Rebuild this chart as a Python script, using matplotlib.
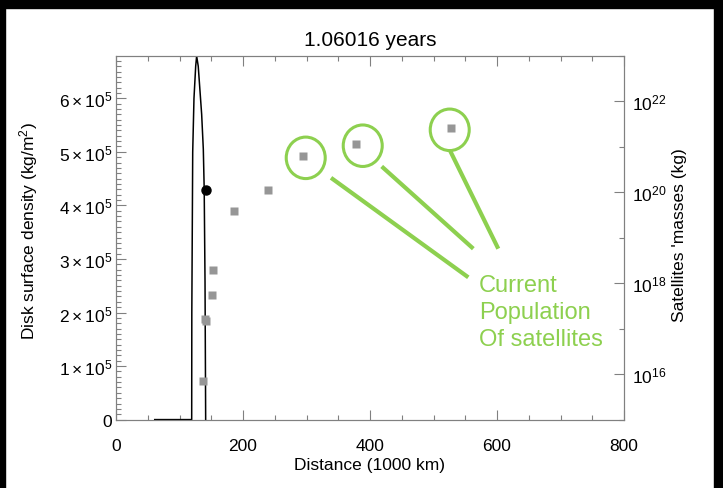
import matplotlib
matplotlib.use('Agg')
import matplotlib.pyplot as plt
import numpy as np
from matplotlib.ticker import FixedLocator, MultipleLocator, FuncFormatter, NullFormatter
from matplotlib.patches import Ellipse, Rectangle
from matplotlib.transforms import ScaledTranslation

plt.rcParams['font.family'] = ['Liberation Sans', 'DejaVu Sans']
plt.rcParams['mathtext.fontset'] = 'custom'
plt.rcParams['mathtext.rm'] = 'Liberation Sans'
plt.rcParams['mathtext.it'] = 'Liberation Sans:italic'
plt.rcParams['mathtext.bf'] = 'Liberation Sans:bold'

# disk surface density profile: distance (1000 km), sigma (kg/m^2)
disk_r = [61, 119.2, 119.4, 120.8, 122.8, 125.5, 127.0, 129.5, 134.9, 137.5, 138.9, 140.2, 141.2]
disk_sigma = [0, 0, 2.0e5, 5.0e5, 6.0e5, 6.6e5, 6.79e5, 6.6e5, 5.7e5, 5.05e5, 4.3e5, 2.57e5, 0]

# outer edge of the disk
edge_r = 141.7
edge_sigma = 4.28e5

# satellites: distance (1000 km) and log10(mass / kg)
sat_r = [137, 139.7, 142.2, 151.7, 152.3, 185.8, 239.4, 295, 378, 527.6]
sat_logm = [15.84, 17.22, 17.16, 17.74, 18.30, 19.60, 20.06, 20.81, 21.07, 21.42]

# the three outermost satellites get highlighted
highlight = [7, 8, 9]

title = '1.06016 years'
green = '#8dd04f'
grey = '#808080'

fig = plt.figure(figsize=(7.23, 4.89), dpi=100)
ax = fig.add_axes([116 / 723, 1 - 420.6 / 489, 508 / 723, 363.6 / 489])
ax2 = ax.twinx()

# density profile and disk edge
ax.plot(disk_r, disk_sigma, color='black', lw=1.1, zorder=3)
ax.plot([edge_r], [edge_sigma], 'o', color='black', ms=6.5, zorder=4)

# satellites on the log mass axis
sat_m = 10 ** np.array(sat_logm)
ax2.plot(sat_r, sat_m, 's', color='#969696', ms=5.3, mec='none')

ax.set_xlim(0, 800)
ax.set_ylim(0, max(disk_sigma))
ax2.set_yscale('log')
ax2.set_ylim(1e15, 1e23)

# left axis
ax.xaxis.set_major_locator(MultipleLocator(200))
ax.xaxis.set_minor_locator(MultipleLocator(50))
ax.yaxis.set_major_locator(MultipleLocator(1e5))
ax.yaxis.set_minor_locator(MultipleLocator(1e4))


def dens_fmt(v, pos):
    if v == 0:
        return '0'
    return r'$%d\times10^{5}$' % round(v / 1e5)


ax.yaxis.set_major_formatter(FuncFormatter(dens_fmt))
ax.tick_params(axis='both', which='both', direction='in', color=grey, labelsize=12.5)
ax.tick_params(axis='x', which='both', top=True)
ax.tick_params(axis='both', which='major', length=7.2, width=0.8)
ax.tick_params(axis='both', which='minor', length=3.6, width=0.8)
ax.tick_params(axis='x', pad=13)
ax.tick_params(axis='y', pad=3)

# right axis: decades, labels on even powers only
ax2.yaxis.set_major_locator(FixedLocator(10.0 ** np.arange(16, 23, 2)))
ax2.yaxis.set_minor_locator(FixedLocator(10.0 ** np.arange(15, 24, 2)))
ax2.yaxis.set_major_formatter(FuncFormatter(lambda v, p: r'$10^{%d}$' % round(np.log10(v))))
ax2.yaxis.set_minor_formatter(NullFormatter())
ax2.tick_params(axis='y', which='both', direction='in', color=grey, labelsize=12.5, pad=6)
ax2.tick_params(axis='y', which='major', length=7.2, width=0.8)
ax2.tick_params(axis='y', which='minor', length=3.6, width=0.8)

for a in (ax, ax2):
    for s in a.spines.values():
        s.set_color(grey)
        s.set_linewidth(0.8)

ax.set_title(title, fontsize=15, pad=8)
ax.set_xlabel('Distance (1000 km)', fontsize=12.5)
ax.xaxis.set_label_coords(0.5, -0.104)
ax.set_ylabel('Disk surface density (kg/m$^2$)', fontsize=12.5)
ax.yaxis.set_label_coords(-0.173, 0.52)
ax.yaxis.label.set_va('center')
ax2.set_ylabel("Satellites 'masses (kg)", fontsize=12.5)
ax2.yaxis.set_label_coords(1.11, 0.51)
ax2.yaxis.label.set_va('center')

# green callouts around the outer satellites
circle_offsets = [(2.4, -2.3), (6.7, -2.0), (-1.3, -2.0)]
line_starts = [(338.6, 20.32), (418.4, 20.57), (526.0, 20.92)]
line_ends = [(554.8, 18.13), (562.7, 18.76), (602.0, 18.76)]
for k, i in enumerate(highlight):
    dx, dy = circle_offsets[k]
    tr = fig.dpi_scale_trans + ScaledTranslation(sat_r[i], sat_m[i], ax2.transData)
    ax2.add_patch(Ellipse((dx / 100, dy / 100), 0.39, 0.415, transform=tr,
                          fill=False, ec=green, lw=2.2, clip_on=False))
    (x0, m0), (x1, m1) = line_starts[k], line_ends[k]
    ax2.plot([x0, x1], [10 ** m0, 10 ** m1], color=green, lw=3, solid_capstyle='butt')

ax2.text(571.7, 10 ** 18.21, 'Current\nPopulation\nOf satellites', color=green,
         fontsize=17, ha='left', va='top', linespacing=1.3)

# black frame around the image
for x, y, w, h in [(0, 1 - 9 / 489, 1, 9 / 489), (0, 0, 5 / 723, 1), (714 / 723, 0, 9 / 723, 1)]:
    fig.patches.append(Rectangle((x, y), w, h, transform=fig.transFigure,
                                 color='black', zorder=10))

fig.savefig('out.png', dpi=100)
